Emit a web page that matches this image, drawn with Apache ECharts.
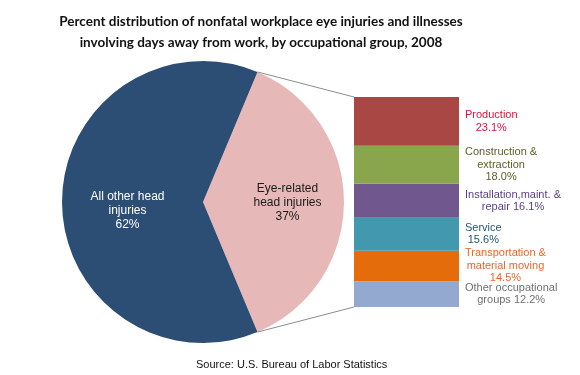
<!DOCTYPE html>
<html>
<head>
<meta charset="utf-8">
<script src="https://cdn.jsdelivr.net/npm/echarts@6/dist/echarts.min.js"></script>
<style>
  html, body { margin: 0; padding: 0; background: #fff; }
  #main { width: 580px; height: 375px; }
</style>
</head>
<body>
<div id="main"></div>
<script>
// pie: head injuries
var pieNames = ["Eye-related\nhead injuries", "All other head\ninjuries"];
var pieValues = [37, 62];
var pieColors = ["#e6b9b8", "#2c4d74"];
var pieLabelColors = ["#1a1a1a", "#ffffff"];

// bar: occupational groups (top to bottom)
var groupLabels = [
    "Production\n23.1%",
    "Construction &\nextraction\n18.0%",
    "Installation,maint. &\nrepair 16.1%",
    "Service\n15.6%",
    "Transportation &\nmaterial moving\n14.5%",
    "Other occupational\ngroups 12.2%"
];
var groupValues = [23.1, 18.0, 16.1, 15.6, 14.5, 12.2];
var groupColors = ["#a94745", "#8aa64c", "#70588f", "#4198af", "#e46c0b", "#93a9d0"];
var groupLabelColors = ["#e0103c", "#5e5e26", "#5a3f86", "#21596a", "#f0642a", "#707070"];

var pieCenter = [203, 202];
var pieRadius = 141;
var barBox = { left: 354, top: 97, width: 105, height: 210 };

var myChart = echarts.init(document.getElementById("main"));

// pie slice: eye-related is centered on the right side
var pieTotal = pieValues.reduce(function (a, b) { return a + b; }, 0);
var halfAngle = 180 * pieValues[0] / pieTotal;
var rad = halfAngle * Math.PI / 180;
var topPt = [pieCenter[0] + pieRadius * Math.cos(rad), pieCenter[1] - pieRadius * Math.sin(rad)];
var botPt = [pieCenter[0] + pieRadius * Math.cos(rad), pieCenter[1] + pieRadius * Math.sin(rad)];

var groupTotal = groupValues.reduce(function (a, b) { return a + b; }, 0);

// stacked bars, bottom segment first
var barSeries = [];
for (var i = groupValues.length - 1; i >= 0; i--) {
    var parts = groupLabels[i].split("\n").map(function (s) { return "{c|" + s + "}"; });
    barSeries.push({
        type: "bar",
        stack: "occ",
        barWidth: "100%",
        silent: true,
        itemStyle: { color: groupColors[i] },
        label: {
            show: true,
            position: "right",
            distance: 6,
            align: "left",
            formatter: parts.join("\n"),
            rich: {
                c: {
                    align: "center",
                    color: groupLabelColors[i],
                    fontFamily: "Liberation Sans",
                    fontSize: 11,
                    lineHeight: 12.5
                }
            }
        },
        data: [groupValues[i]]
    });
}

var pieData = pieNames.map(function (n, idx) {
    return {
        name: n,
        value: pieValues[idx],
        itemStyle: { color: pieColors[idx] },
        label: { color: pieLabelColors[idx] }
    };
});

var pieLabelText = pieValues.map(function (v) { return v + "%"; });

var option = {
    animation: false,
    title: {
        text: "Percent distribution of nonfatal workplace eye injuries and illnesses\ninvolving days away from work, by occupational group, 2008",
        left: 256,
        textAlign: "center",
        top: 6,
        textStyle: {
            fontFamily: "Lato",
            fontWeight: "bold",
            fontSize: 13.5,
            lineHeight: 21,
            color: "#111"
        }
    },
    grid: {
        left: barBox.left,
        top: barBox.top,
        width: barBox.width,
        height: barBox.height,
        containLabel: false
    },
    xAxis: {
        type: "category",
        data: ["occ"],
        show: false
    },
    yAxis: {
        type: "value",
        min: 0,
        max: groupTotal,
        show: false
    },
    graphic: [
        {
            type: "line",
            shape: { x1: topPt[0], y1: topPt[1], x2: barBox.left, y2: barBox.top },
            style: { stroke: "#8c8c8c", lineWidth: 1 },
            z: 10
        },
        {
            type: "line",
            shape: { x1: botPt[0], y1: botPt[1], x2: barBox.left, y2: barBox.top + barBox.height },
            style: { stroke: "#8c8c8c", lineWidth: 1 },
            z: 10
        },
        {
            type: "text",
            left: 196,
            top: 359,
            style: {
                text: "Source: U.S. Bureau of Labor Statistics",
                fontFamily: "Liberation Sans",
                fontSize: 11,
                fill: "#111"
            }
        }
    ],
    series: [
        {
            type: "pie",
            center: pieCenter,
            radius: pieRadius,
            startAngle: halfAngle,
            clockwise: true,
            silent: true,
            label: {
                show: true,
                position: "inside",
                fontFamily: "Liberation Sans",
                fontSize: 12,
                lineHeight: 14,
                align: "center",
                formatter: function (p) {
                    return p.name + "\n" + pieLabelText[p.dataIndex];
                }
            },
            labelLayout: function (p) {
                return p.dataIndex === 0 ? { dx: 11, dy: 1 } : { dx: -2, dy: 9 };
            },
            labelLine: { show: false },
            itemStyle: { borderWidth: 0 },
            data: pieData
        }
    ].concat(barSeries)
};

myChart.setOption(option, true);
</script>
</body>
</html>
